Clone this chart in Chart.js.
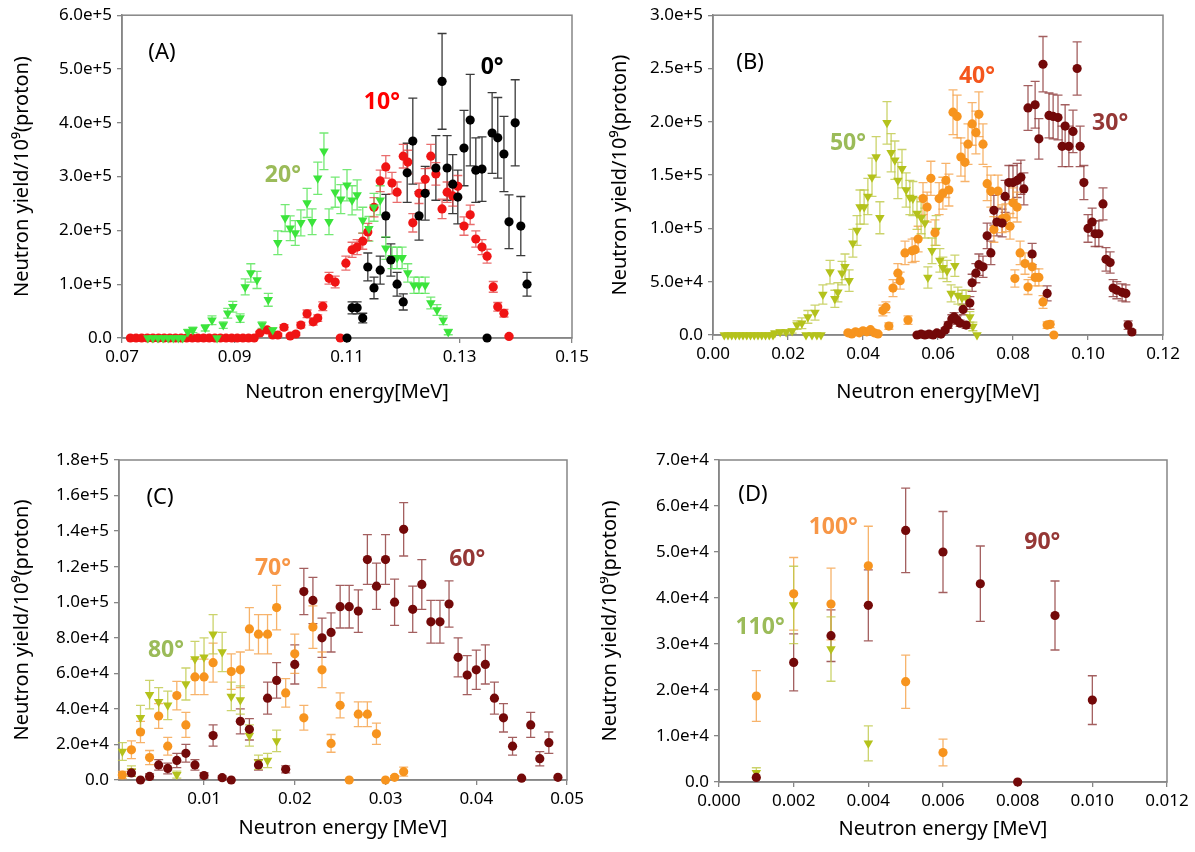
<!DOCTYPE html>
<html>
<head>
<meta charset="utf-8">
<script src="https://cdn.jsdelivr.net/npm/chart.js@4.4.0/dist/chart.umd.min.js"></script>
<style>
  html, body { margin: 0; padding: 0; background: #fff; }
  #wrap { position: relative; width: 1195px; height: 852px; overflow: hidden; }
  #wrap canvas { position: absolute; }
</style>
</head>
<body>
<div id="wrap">
  <canvas id="panel-a" width="600" height="425" style="left:0;top:0"></canvas>
  <canvas id="panel-b" width="595" height="425" style="left:600px;top:0"></canvas>
  <canvas id="panel-c" width="600" height="427" style="left:0;top:425px"></canvas>
  <canvas id="panel-d" width="595" height="427" style="left:600px;top:425px"></canvas>
</div>
<script>
// --- PANEL A : 0°, 10°, 20° ---
const a0x = [0.1100,0.1109,0.1118,0.1128,0.1137,0.1148,0.1159,0.1169,0.1178,0.1189,0.1200,0.1207,0.1217,0.1228,0.1239,0.1258,0.1269,0.1278,0.1288,0.1297,0.1308,0.1319,0.1329,0.1340,0.1349,0.1358,0.1368,0.1379,0.1388,0.1399,0.1409,0.1420];
const a0y = [0,5.6e4,5.6e4,3.7e4,1.32e5,9.3e4,1.26e5,2.27e5,1.45e5,1.0e5,6.7e4,3.07e5,3.66e5,2.27e5,2.69e5,3.16e5,4.77e5,3.16e5,2.86e5,2.62e5,3.53e5,4.05e5,3.12e5,3.14e5,0,3.81e5,3.72e5,3.42e5,2.16e5,4.0e5,2.08e5,1.0e5];
const a0e = [0,1.1e4,1.1e4,9e3,2.6e4,2e4,2.6e4,4e4,3e4,2.2e4,1.5e4,5.5e4,8e4,4.5e4,5e4,6e4,8.9e4,6e4,5.5e4,5e4,7e4,8.5e4,6e4,6e4,0,7.5e4,7.5e4,7e4,5e4,8e4,5.5e4,2.2e4];

const a10x = [0.0715,0.0725,0.0735,0.0745,0.0755,0.0765,0.0775,0.0785,0.0795,0.0805,0.0815,0.0825,0.0835,0.0845,0.0855,0.0865,0.0875,0.0885,0.0895,0.0905,0.0915,0.0925,0.0935,
  0.0945,0.0958,0.0968,0.0977,0.0988,0.0999,0.1009,0.1018,0.1029,0.1040,0.1048,0.1057,0.1068,0.1079,0.1088,0.1098,0.1109,0.1118,0.1128,0.1137,0.1148,0.1159,0.1169,0.1180,0.1189,0.1200,0.1208,0.1217,0.1228,0.1239,0.1249,0.1258,0.1269,0.1278,0.1288,0.1297,0.1308,0.1319,0.1329,0.1340,0.1349,0.1360,0.1368,0.1379,0.1388];
const a10y = [0,0,0,0,0,0,0,0,0,0,0,0,0,0,0,0,0,0,0,0,0,0,0,
  9.3e3,1.5e4,5.6e3,5.6e3,2.0e4,3.7e3,7.4e3,2.4e4,4.5e4,3.0e4,3.7e4,5.9e4,1.11e5,1.04e5,0,1.39e5,1.64e5,1.69e5,1.80e5,1.97e5,2.43e5,2.92e5,3.18e5,2.88e5,2.71e5,3.38e5,3.27e5,2.14e5,2.69e5,2.95e5,3.38e5,3.05e5,2.40e5,2.71e5,2.64e5,2.82e5,2.08e5,2.29e5,1.84e5,1.69e5,1.52e5,9.5e4,5.8e4,4.6e4,3e3];
const a10e = [0,0,0,0,0,0,0,0,0,0,0,0,0,0,0,0,0,0,0,0,0,0,0,
  3e3,4e3,3e3,3e3,5e3,2e3,3e3,5e3,7e3,6e3,6e3,8e3,1.1e4,1.1e4,0,1.3e4,1.4e4,1.4e4,1.5e4,1.6e4,1.8e4,2e4,2.1e4,2e4,1.9e4,2.2e4,2.2e4,1.7e4,1.9e4,2e4,2.2e4,2.1e4,1.8e4,1.9e4,1.9e4,2e4,1.7e4,1.8e4,1.5e4,1.4e4,1.3e4,1e4,8e3,7e3,2e3];

const a20x = [0.0746,0.0755,0.0764,0.0773,0.0782,0.0791,0.0800,0.0808,
  0.0817,0.0826,0.0848,0.0860,0.0869,0.0880,0.0888,0.0897,0.0910,0.0919,0.0929,0.0940,0.0949,0.0960,0.0968,0.0977,0.0990,0.0999,0.1008,0.1018,0.1029,0.1038,0.1048,0.1059,0.1068,0.1079,0.1089,0.1100,0.1109,0.1118,0.1128,0.1139,0.1148,0.1159,0.1169,0.1180,0.1189,0.1198,0.1208,0.1219,0.1228,0.1239,0.1249,0.1260,0.1271,0.1280];
const a20y = [0,0,0,0,0,0,0,0,
  1.1e4,1.5e4,1.9e4,3.3e4,0,2.4e4,4.6e4,5.8e4,3.7e4,9.5e4,1.21e5,1.08e5,2.4e4,7.1e4,1.5e4,1.77e5,2.23e5,2.04e5,1.95e5,2.14e5,2.51e5,2.16e5,2.97e5,3.47e5,2.16e5,2.71e5,2.58e5,2.84e5,2.56e5,2.66e5,2.19e5,2.03e5,2.43e5,2.56e5,1.67e5,1.49e5,1.49e5,1.49e5,1.21e5,9.8e4,9.8e4,9.8e4,6.5e4,5.2e4,3.3e4,1.1e4];
const a20e = [0,0,0,0,0,0,0,0,
  5e3,5e3,6e3,8e3,0,6e3,9e3,1e4,8e3,1.5e4,1.7e4,1.6e4,6e3,1.2e4,4e3,2.2e4,2.5e4,2.3e4,2.3e4,2.4e4,2.7e4,2.4e4,3e4,3.4e4,2.4e4,2.8e4,2.7e4,2.9e4,2.7e4,2.8e4,2.4e4,2.3e4,2.6e4,2.7e4,2.1e4,2e4,2e4,2e4,1.7e4,1.5e4,1.5e4,1.5e4,1.1e4,1e4,8e3,5e3];

// --- PANEL B : 30°, 40°, 50° ---
const b30x = [0.0544,0.0555,0.0565,0.0576,0.0587,0.0597,0.0608,0.0619,0.0627,0.0637,0.0643,0.0651,0.0659,0.0667,0.0675,0.0685,0.0691,0.0701,0.0709,0.0720,0.0731,0.0741,0.0749,0.0757,0.0771,0.0779,0.0789,0.0800,0.0811,0.0821,0.0829,0.0840,0.0851,0.0859,0.0869,0.0880,0.0891,0.0896,0.0907,0.0920,0.0931,0.0939,0.0949,0.0960,0.0971,0.0979,0.0989,0.1000,0.1011,0.1019,0.1029,0.1040,0.1048,0.1059,0.1067,0.1077,0.1091,0.1101,0.1107,0.1117];
const b30y = [0,9e2,0,9e2,0,1.9e3,9e2,4.7e3,9.3e3,1.5e4,1.7e4,1.4e4,1.1e4,2.4e4,9.3e3,3.0e4,4.9e4,5.8e4,6.6e4,6.4e4,9.3e4,7.7e4,1.17e5,1.06e5,1.05e5,1.3e5,1.43e5,1.43e5,1.45e5,1.48e5,1.37e5,2.13e5,7.6e4,2.16e5,1.84e5,2.54e5,3.9e4,2.06e5,2.05e5,2.04e5,1.77e5,1.96e5,1.77e5,1.91e5,2.5e5,1.77e5,1.43e5,1.0e5,1.06e5,9.5e4,9.5e4,1.23e5,7.1e4,6.8e4,4.4e4,4.2e4,4.0e4,3.9e4,9.3e3,2.8e3];
const b30e = [0,0,0,0,0,1e3,1e3,2e3,3e3,4e3,4e3,4e3,3e3,5e3,3e3,6e3,8e3,9e3,1e4,1e4,1.2e4,1.1e4,1.4e4,1.3e4,1.3e4,1.5e4,1.6e4,1.6e4,1.6e4,1.6e4,1.5e4,2.1e4,1e4,2.2e4,1.9e4,2.6e4,7e3,2.1e4,2.1e4,2.1e4,1.9e4,2e4,1.9e4,2e4,2.5e4,1.9e4,1.6e4,1.3e4,1.3e4,1.2e4,1.2e4,1.5e4,1.1e4,1e4,8e3,8e3,8e3,8e3,4e3,2e3];

const b40x = [0.036,0.037,0.038,0.039,0.040,0.041,0.042,0.043,0.044,
  0.0453,0.0461,0.0469,0.0480,0.0493,0.0499,0.0512,0.0520,0.0531,0.0539,0.0547,0.0560,0.0571,0.0581,0.0592,0.0603,0.0613,0.0621,0.0629,0.0640,0.0651,0.0661,0.0672,0.0680,0.0691,0.0701,0.0709,0.0720,0.0731,0.0741,0.0749,0.0760,0.0771,0.0781,0.0792,0.0800,0.0811,0.0805,0.0819,0.0832,0.0840,0.0851,0.0859,0.0869,0.0880,0.0891,0.0899,0.0909];
const b40y = [2e3,1e3,3e3,2e3,4e3,3e3,5e3,2e3,1e3,
  2.3e4,2.6e4,8.4e3,4.4e4,5.8e4,5.1e4,7.7e4,1.4e4,7.9e4,8.0e4,9.0e4,1.28e5,1.2e5,1.47e5,9.6e4,1.28e5,1.33e5,1.45e5,1.36e5,2.09e5,2.05e5,1.67e5,1.62e5,1.79e5,1.98e5,1.9e5,2.07e5,1.79e5,1.42e5,1.35e5,9.9e4,1.35e5,1.09e5,1.1e5,1.02e5,1.24e5,1.2e5,5.3e4,7.7e4,6.7e4,4.5e4,6.4e4,5.4e4,5.4e4,3.1e4,9.3e3,1.0e4,0];
const b40e = [1e3,1e3,1e3,1e3,1e3,1e3,1e3,1e3,1e3,
  5e3,5e3,3e3,8e3,9e3,8e3,1.1e4,4e3,1.1e4,1.1e4,1.2e4,1.5e4,1.4e4,1.6e4,1.2e4,1.5e4,1.5e4,1.6e4,1.5e4,2.1e4,2e4,1.8e4,1.8e4,1.9e4,2e4,2e4,2.1e4,1.9e4,1.6e4,1.5e4,1.2e4,1.5e4,1.3e4,1.3e4,1.2e4,1.4e4,1.4e4,8e3,1.1e4,1e4,7e3,1e4,8e3,8e3,6e3,3e3,3e3,0];

const b50x = [0.003,0.004,0.005,0.006,0.007,0.008,0.009,0.010,0.011,0.012,0.013,0.014,0.015,0.016,
  0.0165,0.0179,0.0195,0.0211,0.0224,0.0237,0.0248,0.0264,0.0277,0.0288,
  0.0253,0.0272,0.0293,0.0312,0.0325,0.0333,0.0344,0.0352,0.0363,0.0373,0.0384,0.0392,0.0403,0.0413,0.0424,0.0435,0.0445,
  0.0464,0.0475,0.0485,0.0493,0.0504,0.0515,0.0525,0.0533,0.0544,0.0555,0.0565,0.0573,0.0584,0.0595,0.0605,0.0613,0.0624,0.0635,0.0645,0.0653,0.0664,0.0675,0.0685,0.0693,0.0704];
const b50y = [0,0,0,0,0,0,0,0,0,0,0,0,0,0,
  1.9e3,2.8e3,2.8e3,3.7e3,9.3e3,1.1e4,0,0,0,0,
  1.7e4,2.1e4,3.8e4,5.9e4,3.4e4,4.0e4,5.8e4,6.4e4,5.1e4,8.6e4,9.8e4,1.2e5,1.2e5,1.3e5,1.48e5,1.67e5,1.1e5,
  1.99e5,1.71e5,1.64e5,1.45e5,1.56e5,1.36e5,1.29e5,1.28e5,1.14e5,1.1e5,1.05e5,5.4e4,7.9e4,9.8e4,7e4,6.3e4,6e4,3.9e4,6.5e4,3.7e4,3.5e4,3.5e4,1.7e4,8e3,0];
const b50e = [0,0,0,0,0,0,0,0,0,0,0,0,0,0,
  1e3,2e3,2e3,2e3,4e3,5e3,0,0,0,0,
  6e3,7e3,9e3,1.1e4,8e3,9e3,1.1e4,1.2e4,1e4,1.3e4,1.4e4,1.6e4,1.6e4,1.7e4,1.8e4,1.9e4,1.5e4,
  2e4,1.8e4,1.8e4,1.7e4,1.8e4,1.6e4,1.6e4,1.6e4,1.5e4,1.5e4,1.4e4,1e4,1.2e4,1.4e4,1.1e4,1e4,1e4,8e3,1e4,8e3,7e3,7e3,5e3,4e3,0];

// --- PANEL C : 60°, 70°, 80° ---
const c60x = [0.002,0.003,0.004,0.005,0.006,0.007,0.008,0.009,0.010,0.011,0.012,0.013,0.014,0.015,0.016,0.017,0.018,0.019,0.020,0.021,0.022,0.023,0.024,0.025,0.026,0.027,0.028,0.029,0.030,0.031,0.032,0.033,0.034,0.035,0.036,0.037,0.038,0.039,0.040,0.041,0.042,0.043,0.044,0.045,0.046,0.047,0.048,0.049];
const c60y = [4e3,0,2e3,8.5e3,6.5e3,1.1e4,1.5e4,8.5e3,2.5e3,2.5e4,1.3e3,0,3.3e4,2.85e4,8.5e3,4.6e4,5.6e4,6e3,6.5e4,1.06e5,1.01e5,8.0e4,8.3e4,9.75e4,9.75e4,9.5e4,1.24e5,1.09e5,1.24e5,1.0e5,1.41e5,9.6e4,1.1e5,8.9e4,8.9e4,9.9e4,6.9e4,5.9e4,6.2e4,6.5e4,4.6e4,3.5e4,1.9e4,1e3,3.1e4,1.2e4,2.1e4,1.5e3];
const c60e = [2e3,0,1.5e3,3e3,3e3,4e3,5e3,3e3,1.5e3,6e3,1e3,0,7e3,6e3,3e3,9e3,1e4,2e3,1.1e4,1.3e4,1.3e4,1.1e4,1.1e4,1.2e4,1.2e4,1.2e4,1.4e4,1.3e4,1.4e4,1.3e4,1.5e4,1.3e4,1.4e4,1.2e4,1.2e4,1.3e4,1.1e4,1.1e4,1.1e4,1.1e4,9e3,8e3,5e3,0,7e3,4e3,6e3,0];

const c70x = [0.001,0.002,0.003,0.004,0.005,0.006,0.007,0.008,0.009,0.010,0.011,0.013,0.014,0.015,0.016,0.017,0.018,0.019,0.020,0.021,0.022,0.023,0.024,0.025,0.026,0.027,0.028,0.029,0.030,0.031,0.032];
const c70y = [2.8e3,1.7e4,2.7e4,1.26e4,3.6e4,1.9e4,4.75e4,3.1e4,5.8e4,5.8e4,6.6e4,6.1e4,6.2e4,8.5e4,8.2e4,8.2e4,9.7e4,4.9e4,7.1e4,3.5e4,8.6e4,6.2e4,2.06e4,4.2e4,0,3.7e4,3.7e4,2.6e4,0,1.5e3,4.7e3];
const c70e = [2e3,5e3,6e3,4e3,7e3,5e3,8e3,7e3,1e4,1e4,1.1e4,1e4,1e4,1.2e4,1.1e4,1.1e4,1.25e4,8e3,1.1e4,7e3,1.2e4,1e4,5e3,7e3,0,7e3,7e3,6e3,0,1e3,2.5e3];

const c80x = [0.001,0.002,0.003,0.004,0.005,0.006,0.007,0.008,0.009,0.010,0.011,0.012,0.013,0.014,0.015,0.016,0.017,0.018];
const c80y = [1.6e4,5e3,3.5e4,4.8e4,4.4e4,4.2e4,3e3,5.4e4,6.8e4,6.9e4,8.2e4,7.2e4,4.7e4,4.5e4,2.5e4,1.0e4,1.1e4,2.2e4];
const c80e = [5e3,3e3,7e3,8e3,8e3,8e3,2e3,9e3,1e4,1.1e4,1.1e4,1.1e4,8e3,8e3,6e3,4e3,4e3,6e3];

// --- PANEL D : 90°, 100°, 110° ---
const d90x = [0.001,0.002,0.003,0.004,0.005,0.006,0.007,0.008,0.009,0.010];
const d90y = [1e3,2.6e4,3.18e4,3.84e4,5.47e4,5.0e4,4.31e4,0,3.62e4,1.78e4];
const d90e = [0,6.2e3,5.6e3,7.7e3,9.2e3,8.8e3,8.2e3,0,7.5e3,5.3e3];

const d100x = [0.001,0.002,0.003,0.004,0.005,0.006];
const d100y = [1.87e4,4.09e4,3.87e4,4.7e4,2.18e4,6.4e3];
const d100e = [5.5e3,7.9e3,7.8e3,8.6e3,5.8e3,2.9e3];

const d110x = [0.001,0.002,0.003,0.004];
const d110y = [2e3,3.85e4,2.89e4,8.4e3];
const d110e = [1.1e3,8.4e3,7e3,3.8e3];

// --- AXIS TICKS ---
const aXTicks = [0.07,0.09,0.11,0.13,0.15];
const aXLabels = ['0.07','0.09','0.11','0.13','0.15'];
const aYTicks = [0,1e5,2e5,3e5,4e5,5e5,6e5];
const aYLabels = ['0.0','1.0e+5','2.0e+5','3.0e+5','4.0e+5','5.0e+5','6.0e+5'];
const bXTicks = [0,0.02,0.04,0.06,0.08,0.10,0.12];
const bXLabels = ['0.00','0.02','0.04','0.06','0.08','0.10','0.12'];
const bYTicks = [0,5e4,1e5,1.5e5,2e5,2.5e5,3e5];
const bYLabels = ['0.0','5.0e+4','1.0e+5','1.5e+5','2.0e+5','2.5e+5','3.0e+5'];
const cXTicks = [0.01,0.02,0.03,0.04,0.05];
const cXLabels = ['0.01','0.02','0.03','0.04','0.05'];
const cYTicks = [0,2e4,4e4,6e4,8e4,1e5,1.2e5,1.4e5,1.6e5,1.8e5];
const cYLabels = ['0.0','2.0e+4','4.0e+4','6.0e+4','8.0e+4','1.0e+5','1.2e+5','1.4e+5','1.6e+5','1.8e+5'];
const dXTicks = [0,0.002,0.004,0.006,0.008,0.010,0.012];
const dXLabels = ['0.000','0.002','0.004','0.006','0.008','0.010','0.012'];
const dYTicks = [0,1e4,2e4,3e4,4e4,5e4,6e4,7e4];
const dYLabels = ['0.0','1.0e+4','2.0e+4','3.0e+4','4.0e+4','5.0e+4','6.0e+4','7.0e+4'];

const yTitle = 'Neutron yield/10\u2079(proton)';

// --- TEXT LABELS IN THE PLOTS (data coordinates) ---
const aNotes = [['(A)',0.0771,5.3e5],['0°',0.1358,5.03e5],['10°',0.1162,4.38e5],['20°',0.0986,3.03e5]];
const bNotes = [['(B)',0.0099,2.55e5],['40°',0.0704,2.43e5],['30°',0.1059,1.98e5],['50°',0.0360,1.80e5]];
const cNotes = [['(C)',0.00515,1.59e5],['70°',0.0176,1.19e5],['60°',0.0390,1.24e5],['80°',0.0058,7.3e4]];
const dNotes = [['(D)',0.00091,6.24e4],['100°',0.00306,5.54e4],['110°',0.0011,3.37e4],['90°',0.00866,5.2e4]];

// --- COLOURS ---
const C_GREEN = '#3be43b', C_RED = '#f01414', C_BLACK = '#000000';
const C_OLIVE = '#b4c21c', C_ORANGE = '#f7941e', C_DARK = '#730909';
const L_GREEN = '#9bbb59', L_RED = '#ff0000', L_ORANGE = '#f79646', L_ORANGE_RED = '#f4561d', L_DARK = '#953735';

const FONT = "'Noto Sans', 'Open Sans', 'DejaVu Sans', sans-serif";
const FRAME = '#868686';

// error bars drawn behind the markers, through the chart's own scales
const errorBarPlugin = {
    id: 'errorBars',
    beforeDatasetsDraw(chart) {
        const { ctx } = chart;
        const xs = chart.scales.x, ys = chart.scales.y;
        ctx.save();
        ctx.lineWidth = 1.3;
        chart.data.datasets.forEach(ds => {
            if (!ds.err) return;
            ctx.strokeStyle = ds.errColor;
            ds.data.forEach((pt, i) => {
                const e = ds.err[i];
                if (!e) return;
                const px = xs.getPixelForValue(pt.x);
                const hi = ys.getPixelForValue(pt.y + e);
                const lo = ys.getPixelForValue(pt.y - e);
                ctx.beginPath();
                ctx.moveTo(px, hi); ctx.lineTo(px, lo);
                ctx.moveTo(px - 4.5, hi); ctx.lineTo(px + 4.5, hi);
                ctx.moveTo(px - 4.5, lo); ctx.lineTo(px + 4.5, lo);
                ctx.stroke();
            });
        });
        ctx.restore();
    }
};

function framePlugin(notes, noteColors) {
    return {
        id: 'frameAndNotes',
        beforeDatasetsDraw(chart) {
            const { ctx, chartArea: a } = chart;
            ctx.save();
            ctx.strokeStyle = FRAME;
            ctx.lineWidth = 1.5;
            ctx.strokeRect(a.left, a.top, a.right - a.left, a.bottom - a.top);
            ctx.restore();
        },
        afterDatasetsDraw(chart) {
            const { ctx } = chart;
            const xs = chart.scales.x, ys = chart.scales.y;
            ctx.save();
            ctx.textAlign = 'center';
            ctx.textBaseline = 'middle';
            notes.forEach((n, i) => {
                ctx.font = i === 0 ? `22px ${FONT}` : `bold 23px ${FONT}`;
                ctx.fillStyle = noteColors[i];
                ctx.fillText(n[0], xs.getPixelForValue(n[1]), ys.getPixelForValue(n[2]));
            });
            ctx.restore();
        }
    };
}

function series(x, y, err, color, errColor, tri) {
    return {
        data: x.map((v, i) => ({ x: v, y: y[i] })),
        err: err,
        errColor: errColor,
        pointStyle: tri ? 'triangle' : 'circle',
        pointRotation: tri ? 180 : 0,
        pointRadius: tri ? 5.5 : 4.6,
        pointBackgroundColor: color,
        pointBorderColor: color,
        pointBorderWidth: 0,
        clip: false
    };
}

function axis(min, max, ticks, labels, title, size, titlePad, vertical) {
    return {
        type: 'linear',
        min: min,
        max: max,
        afterBuildTicks: s => { s.ticks = ticks.map(v => ({ value: v })); },
        afterFit: s => { if (vertical) s.width = size; else s.height = size; },
        grid: { drawOnChartArea: false, drawTicks: true, tickLength: 5, color: FRAME, lineWidth: 1.3 },
        border: { display: true, color: FRAME, width: 1.5 },
        ticks: {
            autoSkip: false, maxRotation: 0, padding: vertical ? 5 : 4,
            color: '#000', font: { family: FONT, size: 17 },
            callback: (v, i) => labels[i]
        },
        title: {
            display: true, text: title, color: '#000',
            font: { family: FONT, size: 20, lineHeight: 1 },
            padding: vertical ? { top: titlePad, bottom: 0 } : { top: 0, bottom: titlePad }
        }
    };
}

function makePanel(id, cfg) {
    return new Chart(document.getElementById(id), {
        type: 'scatter',
        data: { datasets: cfg.datasets },
        options: {
            responsive: false,
            animation: false,
            events: [],
            layout: { padding: cfg.pad },
            plugins: { legend: { display: false }, tooltip: { enabled: false } },
            scales: {
                x: axis(cfg.x[0], cfg.x[1], cfg.xTicks, cfg.xLabels, cfg.xTitle, cfg.xH, cfg.xPad, false),
                y: axis(cfg.y[0], cfg.y[1], cfg.yTicks, cfg.yLabels, yTitle, cfg.yW, cfg.yPad, true)
            }
        },
        plugins: [framePlugin(cfg.notes, cfg.noteColors), errorBarPlugin]
    });
}

// the first dataset of each panel is drawn on top
makePanel('panel-a', {
    datasets: [
        series(a0x, a0y, a0e, C_BLACK, '#3a3a3a', false),
        series(a20x, a20y, a20e, C_GREEN, 'rgba(70,225,70,0.75)', true),
        series(a10x, a10y, a10e, C_RED, 'rgba(225,60,60,0.75)', false)
    ],
    pad: { left: 0, top: 15, right: 28, bottom: 0 },
    x: [0.07, 0.15], xTicks: aXTicks, xLabels: aXLabels, xTitle: 'Neutron energy[MeV]', xH: 87, xPad: 23,
    y: [0, 6e5], yTicks: aYTicks, yLabels: aYLabels, yW: 122, yPad: 12,
    notes: aNotes, noteColors: ['#000', '#000', L_RED, L_GREEN]
});

makePanel('panel-b', {
    datasets: [
        series(b30x, b30y, b30e, C_DARK, 'rgba(140,55,55,0.8)', false),
        series(b40x, b40y, b40e, C_ORANGE, 'rgba(245,160,70,0.8)', false),
        series(b50x, b50y, b50e, C_OLIVE, 'rgba(190,200,70,0.8)', true)
    ],
    pad: { left: 0, top: 14, right: 32, bottom: 0 },
    x: [0, 0.12], xTicks: bXTicks, xLabels: bXLabels, xTitle: 'Neutron energy[MeV]', xH: 90, xPad: 23,
    y: [0, 3e5], yTicks: bYTicks, yLabels: bYLabels, yW: 113, yPad: 10,
    notes: bNotes, noteColors: ['#000', L_ORANGE_RED, L_DARK, L_GREEN]
});

makePanel('panel-c', {
    datasets: [
        series(c60x, c60y, c60e, C_DARK, 'rgba(140,55,55,0.8)', false),
        series(c70x, c70y, c70e, C_ORANGE, 'rgba(245,160,70,0.8)', false),
        series(c80x, c80y, c80e, C_OLIVE, 'rgba(190,200,70,0.8)', true)
    ],
    pad: { left: 0, top: 35, right: 33, bottom: 0 },
    x: [0.00063, 0.05], xTicks: cXTicks, xLabels: cXLabels, xTitle: 'Neutron energy [MeV]', xH: 72, xPad: 14,
    y: [0, 1.8e5], yTicks: cYTicks, yLabels: cYLabels, yW: 119, yPad: 12,
    notes: cNotes, noteColors: ['#000', L_ORANGE, L_DARK, L_GREEN]
});

makePanel('panel-d', {
    datasets: [
        series(d90x, d90y, d90e, C_DARK, 'rgba(140,55,55,0.8)', false),
        series(d100x, d100y, d100e, C_ORANGE, 'rgba(245,160,70,0.8)', false),
        series(d110x, d110y, d110e, C_OLIVE, 'rgba(190,200,70,0.8)', true)
    ],
    pad: { left: 0, top: 35, right: 28, bottom: 0 },
    x: [0, 0.012], xTicks: dXTicks, xLabels: dXLabels, xTitle: 'Neutron energy [MeV]', xH: 70, xPad: 13,
    y: [0, 7e4], yTicks: dYTicks, yLabels: dYLabels, yW: 119, yPad: 0,
    notes: dNotes, noteColors: ['#000', L_ORANGE, L_GREEN, L_DARK]
});
</script>
</body>
</html>
